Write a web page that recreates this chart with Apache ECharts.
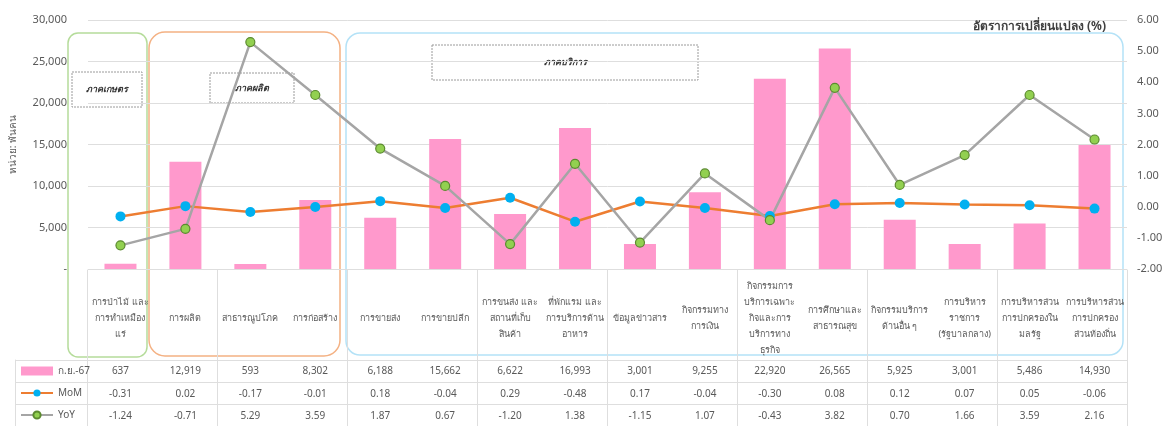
<!DOCTYPE html>
<html>
<head>
<meta charset="utf-8">
<script src="https://cdn.jsdelivr.net/npm/echarts@6/dist/echarts.min.js"></script>
<style>
  html, body { margin: 0; padding: 0; background: #fff; }
  #chart { width: 1169px; height: 426px; }
</style>
</head>
<body>
<div id="chart"></div>
<script>
// ข้อมูลจากภาพ
const categories = [
  'การป่าไม้ และ\nการทำเหมือง\nแร่',
  'การผลิต',
  'สาธารณูปโภค',
  'การก่อสร้าง',
  'การขายส่ง',
  'การขายปลีก',
  'การขนส่ง และ\nสถานที่เก็บ\nสินค้า',
  'ที่พักแรม และ\nการบริการด้าน\nอาหาร',
  'ข้อมูลข่าวสาร',
  'กิจกรรมทาง\nการเงิน',
  'กิจกรรมการ\nบริการเฉพาะ\nกิจและการ\nบริการทาง\nธุรกิจ',
  'การศึกษาและ\nสาธารณสุข',
  'กิจกรรมบริการ\nด้านอื่น ๆ',
  'การบริหาร\nราชการ\n(รัฐบาลกลาง)',
  'การบริหารส่วน\nการปกครองใน\nมลรัฐ',
  'การบริหารส่วน\nการปกครอง\nส่วนท้องถิ่น'
]
const employed = [637, 12919, 593, 8302, 6188, 15662, 6622, 16993, 3001, 9255, 22920, 26565, 5925, 3001, 5486, 14930]
const mom = [-0.31, 0.02, -0.17, -0.01, 0.18, -0.04, 0.29, -0.48, 0.17, -0.04, -0.30, 0.08, 0.12, 0.07, 0.05, -0.06]
const yoy = [-1.24, -0.71, 5.29, 3.59, 1.87, 0.67, -1.20, 1.38, -1.15, 1.07, -0.43, 3.82, 0.70, 1.66, 3.59, 2.16]
const seriesNames = ['ก.ย.-67', 'MoM', 'YoY']
const tableRows = ['ก.ย.-67', 'MoM', 'YoY']

// แกนซ้าย 0–30,000 ทุก 5,000 / แกนขวา -2.00–6.00 ทุก 1.00
const leftAxis = { min: 0, max: 30000, interval: 5000 }
const rightAxis = { min: -2, max: 6, interval: 1 }

const FONT = 'Tahoma, "Noto Sans", "DejaVu Sans", sans-serif'
const TXT = '#595959'
const LINE = '#dedede'

const fmtInt = (v) => (v === 0 ? '-' : Number(v).toLocaleString('en-US'))
const fmt2 = (v) => Number(v).toFixed(2)

function tableAxis(values, offset) {
  return {
    type: 'category',
    gridIndex: 0,
    position: 'bottom',
    offset,
    data: values,
    axisLine: { show: false },
    axisTick: { show: false },
    axisLabel: { interval: 0, margin: 0, verticalAlign: 'middle', fontSize: 10, color: TXT, fontFamily: FONT }
  }
}

function sectorBox(x, y, w, h, r, color) {
  return {
    type: 'rect', z: -1,
    shape: { x, y, width: w, height: h, r },
    style: { fill: 'transparent', stroke: color, lineWidth: 1.5 }
  }
}

function sectorLabel(x, y, w, h, text) {
  return {
    type: 'group', z: 100,
    children: [
      {
        type: 'rect',
        shape: { x, y, width: w, height: h },
        style: { fill: '#fff', stroke: '#9a9a9a', lineWidth: 1, lineDash: [2, 1] }
      },
      {
        type: 'text',
        x: x + w / 2, y: y + h / 2,
        style: {
          text, align: 'center', verticalAlign: 'middle',
          fontSize: 9, fontStyle: 'italic', fontWeight: 'bold', fill: '#333', fontFamily: FONT
        }
      }
    ]
  }
}

const chart = echarts.init(document.getElementById('chart'))

chart.setOption({
  animation: false,
  backgroundColor: '#fff',
  textStyle: { fontFamily: FONT },
  title: {
    text: 'อัตราการเปลี่ยนแปลง (%)',
    right: 58, top: 16,
    textStyle: { fontSize: 12, fontWeight: 'bold', color: '#404040', fontFamily: FONT }
  },
  legend: {
    orient: 'vertical',
    left: 20, top: 366, padding: 0,
    itemWidth: 32, itemHeight: 9, itemGap: 12,
    textStyle: { fontSize: 10, color: TXT, fontFamily: FONT },
    data: [{ name: seriesNames[0], icon: 'rect' }, seriesNames[1], seriesNames[2]]
  },
  grid: [
    { left: 87, right: 42, top: 20, bottom: 157 },   // พื้นที่กราฟ
    { left: 87, right: 42, top: 270, height: 157 },  // เส้นแบ่งคอลัมน์ตาราง
    { left: 15, right: 42, top: 360, height: 67 }    // เส้นแบ่งแถวตาราง
  ],
  xAxis: [
    {
      type: 'category',
      gridIndex: 0,
      data: categories,
      axisLine: { lineStyle: { color: LINE } },
      axisTick: { show: false },
      axisLabel: {
        interval: 0, margin: 49, verticalAlign: 'middle', lineHeight: 16,
        fontSize: 9, color: TXT, fontFamily: FONT
      }
    },
    tableAxis(employed.map(fmtInt), 102),
    tableAxis(mom.map(fmt2), 125),
    tableAxis(yoy.map(fmt2), 147),
    {
      type: 'category',
      gridIndex: 1,
      data: categories,
      axisLine: { show: false },
      axisTick: { show: false },
      axisLabel: { show: false },
      splitLine: { show: true, lineStyle: { color: LINE } }
    },
    { type: 'value', gridIndex: 2, show: false }
  ],
  yAxis: [
    {
      type: 'value',
      gridIndex: 0,
      ...leftAxis,
      name: 'หน่วย: พันคน',
      nameLocation: 'middle',
      nameGap: 70,
      nameRotate: 90,
      nameTextStyle: { fontSize: 10, color: TXT, fontFamily: FONT },
      axisLine: { show: false },
      axisTick: { show: false },
      axisLabel: { margin: 21, fontSize: 11, color: TXT, formatter: fmtInt },
      splitLine: { lineStyle: { color: LINE } }
    },
    {
      type: 'value',
      gridIndex: 0,
      position: 'right',
      ...rightAxis,
      axisLine: { show: false },
      axisTick: { show: false },
      axisLabel: { margin: 10, fontSize: 11, color: TXT, formatter: fmt2 },
      splitLine: { show: false }
    },
    { type: 'value', gridIndex: 1, show: false },
    {
      type: 'category',
      gridIndex: 2,
      inverse: true,
      data: tableRows,
      axisLine: { show: true, lineStyle: { color: LINE } },
      axisTick: { show: false },
      axisLabel: { show: false },
      splitLine: { show: true, lineStyle: { color: LINE } }
    }
  ],
  series: [
    {
      name: seriesNames[0],
      type: 'bar',
      xAxisIndex: 0, yAxisIndex: 0,
      barWidth: 32,
      itemStyle: { color: '#ff99cc' },
      data: employed
    },
    {
      name: seriesNames[1],
      type: 'line',
      xAxisIndex: 0, yAxisIndex: 1,
      symbol: 'circle', symbolSize: 10,
      lineStyle: { color: '#ed7d31', width: 2.5 },
      itemStyle: { color: '#00b0f0', borderWidth: 0 },
      data: mom
    },
    {
      name: seriesNames[2],
      type: 'line',
      xAxisIndex: 0, yAxisIndex: 1,
      symbol: 'circle', symbolSize: 9,
      lineStyle: { color: '#a5a5a5', width: 2.5 },
      itemStyle: { color: '#92d050', borderColor: '#5b8a2f', borderWidth: 1.2 },
      data: yoy
    }
  ],
  graphic: [
    sectorBox(68, 33, 79, 324, 10, '#b5dc9a'),
    sectorBox(149, 32, 191, 324, 16, '#f4b183'),
    sectorBox(346, 33, 777, 322, 14, '#b4e2f7'),
    sectorLabel(72, 72, 70, 35, 'ภาคเกษตร'),
    sectorLabel(210, 73, 84, 30, 'ภาคผลิต'),
    sectorLabel(432, 45, 266, 35, 'ภาคบริการ')
  ]
})

window.addEventListener('resize', () => chart.resize())
</script>
</body>
</html>
